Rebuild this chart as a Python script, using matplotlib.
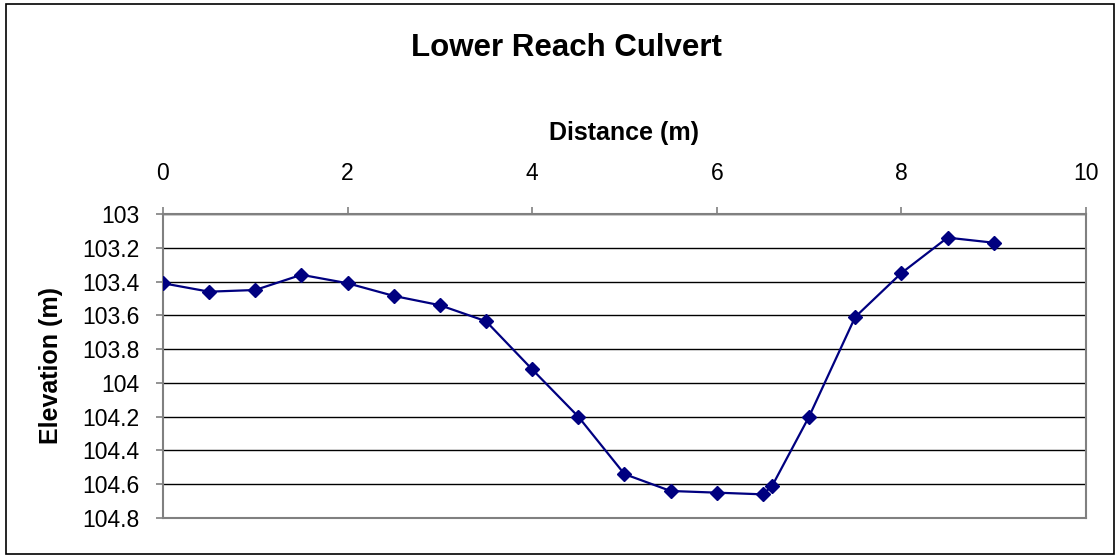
import matplotlib.pyplot as plt
from matplotlib.patches import Rectangle

plt.rcParams['font.family'] = ['Liberation Sans', 'DejaVu Sans']

distance = [0, 0.5, 1.0, 1.5, 2.0, 2.5, 3.0, 3.5, 4.0, 4.5, 5.0, 5.5, 6.0, 6.5, 6.6,
            7.0, 7.5, 8.0, 8.5, 9.0]
elevation = [103.41, 103.46, 103.45, 103.36, 103.41, 103.485, 103.54, 103.635, 103.92,
             104.20, 104.54, 104.64, 104.65, 104.66, 104.61, 104.20, 103.61, 103.35,
             103.14, 103.17]

x_ticks = [0, 2, 4, 6, 8, 10]
y_ticks = [103, 103.2, 103.4, 103.6, 103.8, 104, 104.2, 104.4, 104.6, 104.8]
y_labels = ['103', '103.2', '103.4', '103.6', '103.8', '104', '104.2', '104.4', '104.6', '104.8']

fig = plt.figure(figsize=(11.2, 5.58), dpi=100)
ax = fig.add_axes([0.1455, 0.0717, 0.8241, 0.5448])

ax.plot(distance, elevation, color='#000080', lw=1.6, marker='D', ms=6.8,
        markerfacecolor='#000080', markeredgecolor='#000080', zorder=3)

ax.set_xlim(0, 10)
ax.set_ylim(104.8, 103)
ax.set_xticks(x_ticks)
ax.set_yticks(y_ticks)
ax.set_yticklabels(y_labels)
ax.xaxis.tick_top()
ax.xaxis.set_label_position('top')
ax.tick_params(axis='both', labelsize=16.5, length=5, color='#808080', width=1.2)
ax.tick_params(axis='x', pad=16)
ax.tick_params(axis='y', pad=12)
ax.yaxis.grid(True, color='black', lw=1)
ax.set_axisbelow(True)
for s in ax.spines.values():
    s.set_color('#808080')
    s.set_linewidth(1.5)

ax.set_xlabel('Distance (m)', fontsize=18, fontweight='bold', labelpad=16)
ax.set_ylabel('Elevation (m)', fontsize=18, fontweight='bold', labelpad=14)
fig.text(0.506, 0.914, 'Lower Reach Culvert', ha='center', va='center',
         fontsize=22.5, fontweight='bold')

fig.patches.append(Rectangle((0.005, 0.008), 0.99, 0.985, transform=fig.transFigure,
                             fill=False, edgecolor='black', lw=1.2))

fig.savefig('out.png', dpi=100)
